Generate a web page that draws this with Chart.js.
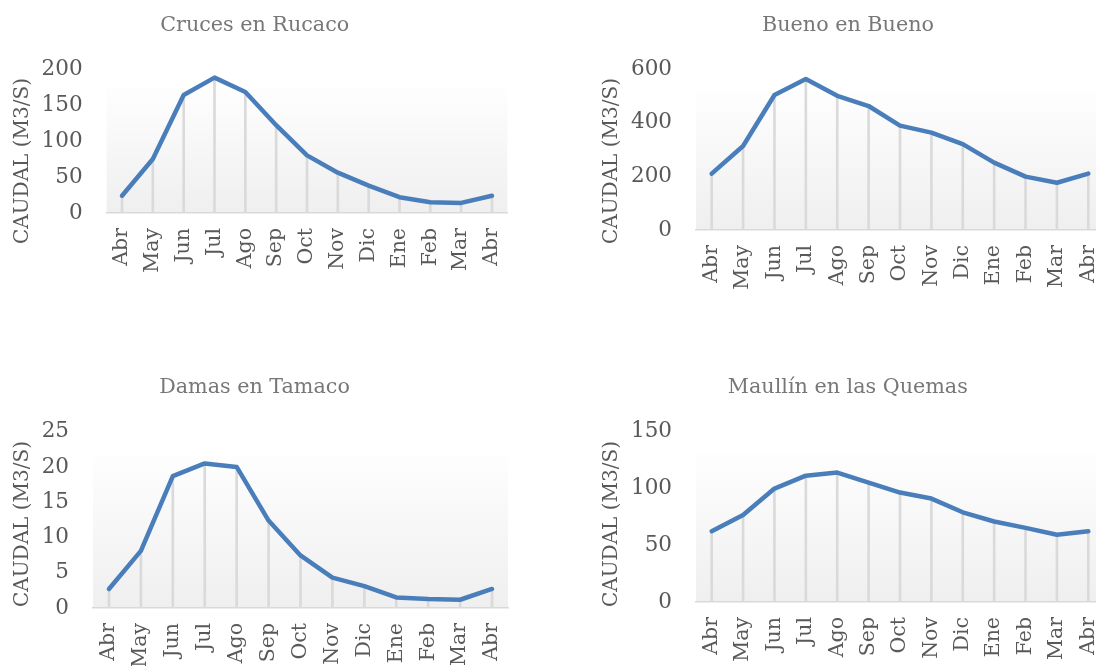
<!DOCTYPE html>
<html>
<head>
<meta charset="utf-8">
<script src="https://cdn.jsdelivr.net/npm/chart.js@4/dist/chart.umd.min.js"></script>
<style>
  html, body { margin: 0; padding: 0; background: #fff; overflow: hidden; width: 1096px; height: 666px; position: relative; }
  .panel { position: absolute; height: 333px; }
  .panel.left { width: 548px; }
  .panel.right { width: 570px; }
  canvas { display: block; }
</style>
</head>
<body>
<div class="panel left" style="left:0;top:0"><canvas id="c1" width="548" height="333" style="width:548px;height:333px"></canvas></div>
<div class="panel right" style="left:548px;top:0"><canvas id="c2" width="570" height="333" style="width:570px;height:333px"></canvas></div>
<div class="panel left" style="left:0;top:333px"><canvas id="c3" width="548" height="333" style="width:548px;height:333px"></canvas></div>
<div class="panel right" style="left:548px;top:333px"><canvas id="c4" width="570" height="333" style="width:570px;height:333px"></canvas></div>
<script>
// Monthly mean discharge, hydrological year April -> April
const months = ['Abr', 'May', 'Jun', 'Jul', 'Ago', 'Sep', 'Oct', 'Nov', 'Dic', 'Ene', 'Feb', 'Mar', 'Abr'];
const stations = ['Cruces en Rucaco', 'Bueno en Bueno', 'Damas en Tamaco', 'Maullín en las Quemas'];
const cruces = [24, 75, 164, 188, 168, 122, 80, 56, 38, 22, 15, 14, 24];
const bueno = [210, 313, 503, 563, 500, 462, 389, 363, 320, 251, 199, 176, 210];
const damas = [2.7, 8.1, 18.7, 20.5, 20.0, 12.4, 7.45, 4.3, 3.1, 1.5, 1.27, 1.17, 2.7];
const maullin = [62.4, 76.7, 99.9, 111.3, 114, 105.2, 96.4, 91.1, 79, 70.9, 65.3, 59.2, 62.4];
const yMax = [200, 600, 25, 150];
const yStep = [50, 200, 5, 50];
const yLabel = 'CAUDAL (M3/S)';

const series = [cruces, bueno, damas, maullin];
const FONT = "'DejaVu Serif', serif";
const TEXT = '#595959';

// canvas size, plot rectangle and text anchors for each panel
const panels = [
  { id: 'c1', w: 548, h: 333, area: { l: 106.6, r: 507.4, t: 69, b: 213 }, title: [254.7, 30.5], yTitle: [23, 161] },
  { id: 'c2', w: 570, h: 333, area: { l: 148, r: 556, t: 69, b: 230 }, title: [300, 30.5], yTitle: [64, 161] },
  { id: 'c3', w: 548, h: 333, area: { l: 93, r: 508, t: 98.7, b: 275 }, title: [254.5, 60.3], yTitle: [23, 191] },
  { id: 'c4', w: 570, h: 333, area: { l: 148, r: 556, t: 98.7, b: 269 }, title: [299.8, 60.3], yTitle: [63.7, 191] }
];

// plot-area gradient, chart title and vertical axis title
const decor = {
  id: 'decor',
  beforeDraw(chart, args, o) {
    const { ctx, chartArea: a } = chart;
    const top = a.top + (a.bottom - a.top) * 0.13;
    const g = ctx.createLinearGradient(0, top, 0, a.bottom);
    g.addColorStop(0, '#fefefe');
    g.addColorStop(1, '#efefef');
    ctx.save();
    ctx.fillStyle = g;
    ctx.fillRect(a.left, top, a.right - a.left, a.bottom - top);
    ctx.restore();
  },
  afterDraw(chart, args, o) {
    const ctx = chart.ctx;
    ctx.save();
    ctx.font = '20.7px ' + FONT;
    ctx.fillStyle = '#777777';
    ctx.textAlign = 'center';
    ctx.textBaseline = 'alphabetic';
    ctx.fillText(o.text, o.title[0], o.title[1]);
    ctx.font = '20px ' + FONT;
    ctx.translate(o.yTitle[0], o.yTitle[1]);
    ctx.rotate(-Math.PI / 2);
    ctx.textBaseline = 'middle';
    ctx.fillStyle = TEXT;
    ctx.fillText(yLabel, 0, 0);
    ctx.restore();
  }
};

panels.forEach((p, i) => {
  const a = p.area;
  new Chart(document.getElementById(p.id), {
    type: 'line',
    data: {
      labels: months,
      datasets: [
        {
          type: 'line',
          data: series[i],
          borderColor: '#4a7ebb',
          borderWidth: 4.5,
          pointRadius: 0,
          tension: 0,
          borderJoinStyle: 'round',
          borderCapStyle: 'round',
          order: 1
        },
        {
          // drop lines from each point to the category axis
          type: 'bar',
          data: series[i],
          backgroundColor: '#dadada',
          barThickness: 2,
          order: 2
        }
      ]
    },
    options: {
      responsive: false,
      maintainAspectRatio: false,
      animation: false,
      events: [],
      layout: { padding: { left: 0, top: a.t, right: p.w - a.r, bottom: 0 } },
      plugins: {
        legend: { display: false },
        tooltip: { enabled: false },
        decor: { text: stations[i], title: p.title, yTitle: p.yTitle }
      },
      scales: {
        x: {
          offset: true,
          grid: { display: false, drawTicks: false },
          border: { display: true, color: '#d9d9d9', width: 1.5 },
          ticks: {
            autoSkip: false, minRotation: 90, maxRotation: 90, padding: 15,
            color: TEXT, font: { family: FONT, size: 20.5 }
          },
          afterFit(s) {
            s.height = p.h - a.b;
            s.paddingLeft = 0;
            s.paddingRight = 0;
          }
        },
        y: {
          min: 0, max: yMax[i],
          grid: { display: false, drawTicks: false },
          border: { display: false },
          ticks: { stepSize: yStep[i], padding: 24, color: TEXT, font: { family: FONT, size: 21.5 } },
          afterFit(s) {
            s.width = a.l;
            s.paddingTop = 0;
            s.paddingBottom = 0;
          }
        }
      }
    },
    plugins: [decor]
  });
});
</script>
</body>
</html>
